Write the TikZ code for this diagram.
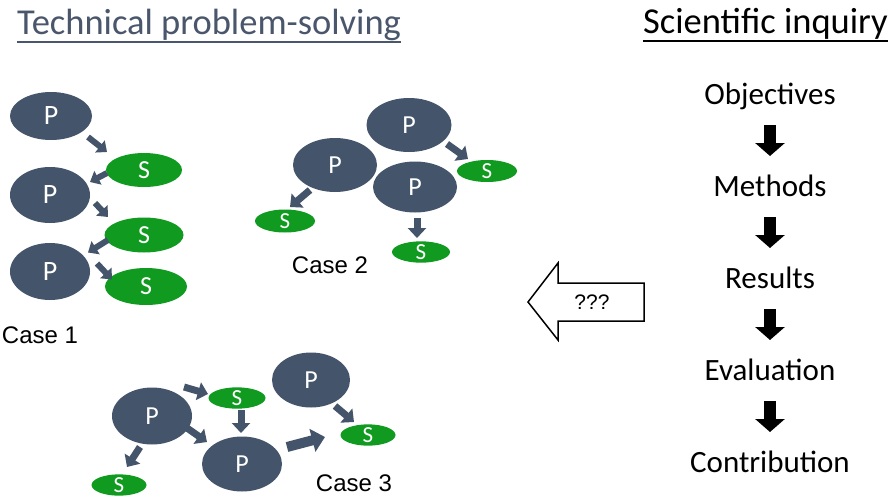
\documentclass[tikz,border=0pt]{standalone}
\usepackage{fontspec}
\setmainfont{Carlito}
\newfontfamily\arialf{Liberation Sans}
\usetikzlibrary{shapes.geometric,arrows.meta}
\definecolor{pblue}{HTML}{44546A}
\definecolor{sgreen}{HTML}{109B20}
\definecolor{ttl}{HTML}{4A566B}
\tikzset{
  pnode/.style={ellipse, fill=pblue, text=white, inner sep=0pt, font=\fontsize{26}{26}\selectfont},
  snode/.style={ellipse, fill=sgreen, text=white, inner sep=0pt, font=\fontsize{23}{23}\selectfont},
  sarr/.style={draw=pblue, line width=6pt, -{Triangle[width=15pt,length=9pt]}},
  marr/.style={draw=pblue, line width=7pt, -{Triangle[width=18pt,length=10pt]}},
  barr/.style={draw=pblue, line width=10pt, -{Triangle[width=23pt,length=13pt]}},
  karr/.style={draw=black, line width=12pt, -{Triangle[width=29pt,length=13pt]}},
  steplbl/.style={font=\fontsize{31}{31}\selectfont, anchor=base, inner sep=0pt},
  caselbl/.style={font=\arialf\fontsize{24}{24}\selectfont, inner sep=0pt},
  ttlnode/.style={inner sep=0pt},
}
\begin{document}
\begin{tikzpicture}[x=1pt,y=-1pt]
\fill[white] (0,0) rectangle (891,498);
\useasboundingbox (0,0) rectangle (891,498);

% titles
\node[ttlnode, text=ttl, anchor=base west, font=\fontsize{36.5}{36.5}\selectfont] (t1) at (17,34) {Technical problem-solving};
\draw[ttl, line width=2pt] ([shift={(0,8)}]t1.base west) -- ([shift={(0,8)}]t1.base east);
\node[ttlnode, text=black, anchor=base east, font=\fontsize{36.5}{36.5}\selectfont] (t2) at (888,33) {Scientific inquiry};
\draw[black, line width=2pt] ([shift={(0,8)}]t2.base west) -- ([shift={(0,8)}]t2.base east);

% Case 1
\node[pnode, minimum width=82pt, minimum height=48pt, font=\fontsize{28}{28}\selectfont] (c1p1) at (51,116) {P};
\node[snode, minimum width=76pt, minimum height=34pt, font=\fontsize{26}{26}\selectfont] (c1s1) at (144,170) {S};
\node[pnode, minimum width=80pt, minimum height=56pt, font=\fontsize{28}{28}\selectfont] (c1p2) at (50,195) {P};
\node[snode, minimum width=79pt, minimum height=35pt, font=\fontsize{26}{26}\selectfont] (c1s2) at (144,235) {S};
\node[pnode, minimum width=80pt, minimum height=57pt, font=\fontsize{28}{28}\selectfont] (c1p3) at (50,271.5) {P};
\node[snode, minimum width=82pt, minimum height=37pt, font=\fontsize{26}{26}\selectfont] (c1s3) at (146,286.5) {S};
\draw[sarr] ([shift={(37,21)}]c1p1.center) -- ([shift={(-37,-18)}]c1s1.center);
\draw[sarr] ([shift={(-37,3)}]c1s1.center) -- ([shift={(40,-13)}]c1p2.center);
\draw[sarr] ([shift={(45,8)}]c1p2.center) -- ([shift={(-36,-18)}]c1s2.center);
\draw[sarr] ([shift={(-36,5)}]c1s2.center) -- ([shift={(38,-19)}]c1p3.center);
\draw[sarr] ([shift={(47,-8)}]c1p3.center) -- ([shift={(-34,-7)}]c1s3.center);
\node[caselbl] (c1lbl) at (40,335) {Case 1};

% Case 2
\node[pnode, minimum width=85pt, minimum height=54pt] (c2pa) at (409,125) {P};
\node[pnode, minimum width=84pt, minimum height=54pt] (c2pb) at (335,165) {P};
\node[pnode, minimum width=84pt, minimum height=51pt] (c2pc) at (415,187) {P};
\node[snode, minimum width=60pt, minimum height=22pt] (c2sa) at (487,171) {S};
\node[snode, minimum width=60pt, minimum height=23pt] (c2sb) at (285,221) {S};
\node[snode, minimum width=58pt, minimum height=21pt] (c2sc) at (421,252) {S};
\draw[marr] ([shift={(38,19)}]c2pa.center) -- ([shift={(-19,-12)}]c2sa.center);
\draw[marr] ([shift={(-25,25)}]c2pb.center) -- ([shift={(5,-14)}]c2sb.center);
\draw[marr] ([shift={(2,31)}]c2pc.center) -- ([shift={(-4,-14)}]c2sc.center);
\node[caselbl] (c2lbl) at (330,265) {Case 2};

% Case 3
\node[pnode, minimum width=80pt, minimum height=57pt] (c3pa) at (152,416) {P};
\node[snode, minimum width=57pt, minimum height=20pt] (c3sa) at (237,398) {S};
\node[pnode, minimum width=78pt, minimum height=55pt] (c3pb) at (311,380) {P};
\node[snode, minimum width=55pt, minimum height=20pt] (c3sb) at (368,435) {S};
\node[pnode, minimum width=80pt, minimum height=55pt] (c3pc) at (242,464) {P};
\node[snode, minimum width=55pt, minimum height=19pt] (c3sc) at (119,485) {S};
\draw[marr] ([shift={(32,-29)}]c3pa.center) -- ([shift={(-29,-4)}]c3sa.center);
\draw[marr] ([shift={(4,12)}]c3sa.center) -- ([shift={(-1,-31)}]c3pc.center);
\draw[marr] ([shift={(35,12)}]c3pa.center) -- ([shift={(-35,-22)}]c3pc.center);
\draw[marr] ([shift={(-12,31)}]c3pa.center) -- ([shift={(8,-18)}]c3sc.center);
\draw[marr] ([shift={(24,26)}]c3pb.center) -- ([shift={(-14,-13)}]c3sb.center);
\draw[barr] ([shift={(45,-17)}]c3pc.center) -- ([shift={(-43,2)}]c3sb.center);
\node[caselbl] (c3lbl) at (354,483) {Case 3};

% hollow arrow
\draw[black, line width=1.5pt, fill=white, line join=miter]
  (644,283) -- (558,283) -- (558,263) -- (528,302) -- (558,340) -- (558,321) -- (644,321) -- cycle;
\node[font=\arialf\fontsize{21}{21}\selectfont, inner sep=0pt] (qq) at (592,302) {???};

% scientific inquiry steps
\node[steplbl] (obj) at (770,104) {Objectives};
\node[steplbl] (meth) at (770,196) {Methods};
\node[steplbl] (res) at (770,288) {Results};
\node[steplbl] (eval) at (770,380) {Evaluation};
\node[steplbl] (contr) at (770,472) {Contribution};
\draw[karr] ([shift={(0,21)}]obj.base) -- ([shift={(0,-40)}]meth.base);
\draw[karr] ([shift={(0,21)}]meth.base) -- ([shift={(0,-40)}]res.base);
\draw[karr] ([shift={(0,21)}]res.base) -- ([shift={(0,-40)}]eval.base);
\draw[karr] ([shift={(0,21)}]eval.base) -- ([shift={(0,-40)}]contr.base);
\end{tikzpicture}
\end{document}
